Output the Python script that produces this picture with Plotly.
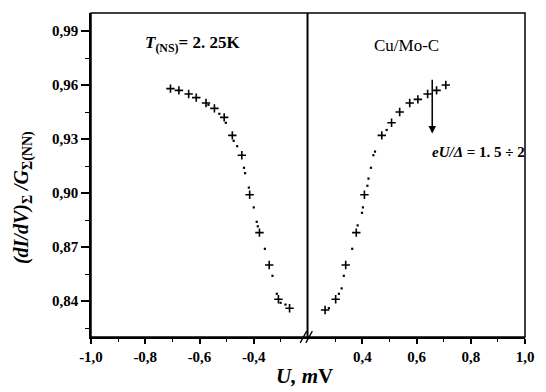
import plotly.graph_objects as go

# left branch (U < 0), large "+" markers
left_u = [-0.707, -0.676, -0.640, -0.612, -0.576, -0.545, -0.509, -0.479,
          -0.444, -0.415, -0.379, -0.343, -0.309, -0.268]
left_g = [0.958, 0.957, 0.955, 0.953, 0.950, 0.947, 0.942, 0.932,
          0.921, 0.899, 0.878, 0.860, 0.841, 0.836]
# left branch, small intermediate points
left_u_dots = [-0.567, -0.527, -0.503, -0.474, -0.461, -0.436, -0.432, -0.418,
               -0.400, -0.389, -0.385, -0.359, -0.331, -0.315, -0.301, -0.283]
left_g_dots = [0.949, 0.944, 0.939, 0.929, 0.926, 0.914, 0.911, 0.903,
               0.892, 0.884, 0.8815, 0.869, 0.854, 0.844, 0.839, 0.838]

# right branch (U > 0)
right_u = [0.263, 0.302, 0.339, 0.378, 0.408, 0.472, 0.508, 0.538,
           0.575, 0.605, 0.641, 0.674, 0.708]
right_g = [0.835, 0.841, 0.860, 0.878, 0.899, 0.932, 0.939, 0.945,
           0.950, 0.952, 0.955, 0.957, 0.960]
right_u_dots = [0.277, 0.314, 0.324, 0.332, 0.363, 0.383, 0.399, 0.4025,
                0.419, 0.423, 0.432, 0.441, 0.447, 0.490]
right_g_dots = [0.836, 0.844, 0.847, 0.854, 0.869, 0.882, 0.889, 0.892,
                0.904, 0.908, 0.914, 0.921, 0.923, 0.935]

y_ticks = [0.84, 0.87, 0.90, 0.93, 0.96, 0.99]
y_labels = ["0,84", "0,87", "0,90", "0,93", "0,96", "0,99"]
xl_ticks = [-1.0, -0.8, -0.6, -0.4]
xl_labels = ["-1,0", "-0,8", "-0,6", "-0,4"]
xr_ticks = [0.4, 0.6, 0.8, 1.0]
xr_labels = ["0,4", "0,6", "0,8", "1,0"]

serif = "Liberation Serif"
cross = dict(symbol="cross-thin", size=6, color="black", line=dict(width=1.6, color="black"))
dot = dict(symbol="square", size=2.2, color="black")

fig = go.Figure()
fig.add_scatter(x=left_u, y=left_g, mode="markers", marker=cross, xaxis="x", yaxis="y")
fig.add_scatter(x=left_u_dots, y=left_g_dots, mode="markers", marker=dot, xaxis="x", yaxis="y")
fig.add_scatter(x=right_u, y=right_g, mode="markers", marker=cross, xaxis="x2", yaxis="y")
fig.add_scatter(x=right_u_dots, y=right_g_dots, mode="markers", marker=dot, xaxis="x2", yaxis="y")

tickfont = dict(family=serif, size=15, color="black", weight="bold")
axis_common = dict(showgrid=False, zeroline=False, showline=True, linecolor="black",
                   linewidth=1.5, ticks="outside", ticklen=5, tickwidth=1.5,
                   tickcolor="black", tickfont=tickfont)

fig.update_layout(
    width=546, height=392,
    margin=dict(l=91, r=18, t=13, b=55),
    paper_bgcolor="white", plot_bgcolor="white",
    showlegend=False,
    xaxis=dict(domain=[0, 0.5], range=[-1.0, -0.2], tickvals=xl_ticks, ticktext=xl_labels,
               minor=dict(tickvals=[-0.9, -0.7, -0.5, -0.3], ticklen=3, tickwidth=1.2,
                          tickcolor="black", ticks="outside"),
               **axis_common),
    xaxis2=dict(domain=[0.5, 1], range=[0.2, 1.0], anchor="y", tickvals=xr_ticks,
                ticktext=xr_labels,
                minor=dict(tickvals=[0.3, 0.5, 0.7, 0.9], ticklen=3, tickwidth=1.2,
                           tickcolor="black", ticks="outside"),
                **axis_common),
    yaxis=dict(range=[0.82, 1.0], tickvals=y_ticks, ticktext=y_labels, anchor="x",
               minor=dict(tickvals=[0.825, 0.855, 0.885, 0.915, 0.945, 0.975], ticklen=4,
                          tickwidth=1.2, tickcolor="black", ticks="outside"),
               ticklen=8, **{k: v for k, v in axis_common.items() if k != "ticklen"}),
)

# frame, centre line and axis break
fig.add_shape(type="rect", xref="paper", yref="paper", x0=0, x1=1, y0=0, y1=1,
              line=dict(color="black", width=1.5))
fig.add_shape(type="line", xref="paper", yref="paper", x0=0.4989, x1=0.4989, y0=0, y1=1,
              line=dict(color="black", width=2))
for dx in (0.0, 0.013):
    fig.add_shape(type="line", xref="paper", yref="paper", x0=0.482 + dx, x1=0.497 + dx,
                  y0=-0.018, y1=0.018, line=dict(color="black", width=1.3))

ann_font = dict(family=serif, color="black")
fig.add_annotation(xref="paper", yref="paper", x=0.492, y=-0.12, xanchor="center",
                   yanchor="middle", showarrow=False,
                   text="<b><i>U, m</i>V</b>", font=dict(size=21, **ann_font))
fig.add_annotation(xref="paper", yref="paper", x=-0.158, y=0.43, xanchor="center",
                   yanchor="middle", showarrow=False, textangle=-90,
                   text="<b><i>(dI/dV)</i><sub>Σ</sub><i> /G</i><sub>Σ(NN)</sub></b>",
                   font=dict(size=20, **ann_font))
fig.add_annotation(xref="paper", yref="paper", x=0.12, y=0.905, xanchor="left",
                   yanchor="middle", showarrow=False,
                   text="<b><i>T</i><sub>(NS)</sub>= 2. 25K</b>", font=dict(size=17, **ann_font))
fig.add_annotation(xref="paper", yref="paper", x=0.727, y=0.901, xanchor="center",
                   yanchor="middle", showarrow=False,
                   text="Cu/Mo-C", font=dict(size=17, **ann_font))
fig.add_annotation(x=0.658, y=0.933, xref="x2", yref="y", ax=0.658, ay=0.9637,
                   axref="x2", ayref="y", text="", showarrow=True, arrowhead=2,
                   arrowsize=1, arrowwidth=1.5, arrowcolor="black")
fig.add_annotation(xref="paper", yref="paper", x=0.782, y=0.571, xanchor="left",
                   yanchor="middle", showarrow=False,
                   text="<b><i>eU/Δ</i> = 1. 5 ÷ 2</b>", font=dict(size=15, **ann_font))

fig.write_html("out.html", config={"displayModeBar": False},
               post_script="document.body.style.margin='0';")
